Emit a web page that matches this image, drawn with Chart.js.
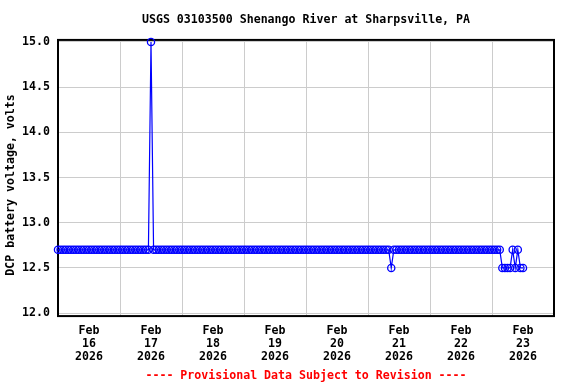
<!DOCTYPE html>
<html>
<head>
<meta charset="utf-8">
<script src="https://cdn.jsdelivr.net/npm/chart.js@4/dist/chart.umd.min.js"></script>
<style>
  html, body { margin: 0; padding: 0; background: #fff; }
</style>
</head>
<body>
<canvas id="myChart" width="576" height="384"></canvas>
<script>
// hourly DCP battery voltage, one row per day, starting Feb 16 2026 00:00
const volts = [
  12.7, 12.7, 12.7, 12.7, 12.7, 12.7, 12.7, 12.7, 12.7, 12.7, 12.7, 12.7, 12.7, 12.7, 12.7, 12.7, 12.7, 12.7, 12.7, 12.7, 12.7, 12.7, 12.7, 12.7,
  12.7, 12.7, 12.7, 12.7, 12.7, 12.7, 12.7, 12.7, 12.7, 12.7, 12.7, 12.7, 15.0, 12.7, 12.7, 12.7, 12.7, 12.7, 12.7, 12.7, 12.7, 12.7, 12.7, 12.7,
  12.7, 12.7, 12.7, 12.7, 12.7, 12.7, 12.7, 12.7, 12.7, 12.7, 12.7, 12.7, 12.7, 12.7, 12.7, 12.7, 12.7, 12.7, 12.7, 12.7, 12.7, 12.7, 12.7, 12.7,
  12.7, 12.7, 12.7, 12.7, 12.7, 12.7, 12.7, 12.7, 12.7, 12.7, 12.7, 12.7, 12.7, 12.7, 12.7, 12.7, 12.7, 12.7, 12.7, 12.7, 12.7, 12.7, 12.7, 12.7,
  12.7, 12.7, 12.7, 12.7, 12.7, 12.7, 12.7, 12.7, 12.7, 12.7, 12.7, 12.7, 12.7, 12.7, 12.7, 12.7, 12.7, 12.7, 12.7, 12.7, 12.7, 12.7, 12.7, 12.7,
  12.7, 12.7, 12.7, 12.7, 12.7, 12.7, 12.7, 12.7, 12.7, 12.5, 12.7, 12.7, 12.7, 12.7, 12.7, 12.7, 12.7, 12.7, 12.7, 12.7, 12.7, 12.7, 12.7, 12.7,
  12.7, 12.7, 12.7, 12.7, 12.7, 12.7, 12.7, 12.7, 12.7, 12.7, 12.7, 12.7, 12.7, 12.7, 12.7, 12.7, 12.7, 12.7, 12.7, 12.7, 12.7, 12.7, 12.7, 12.7,
  12.7, 12.7, 12.7, 12.7, 12.5, 12.5, 12.5, 12.5, 12.7, 12.5, 12.7, 12.5, 12.5
];
// hours since Feb 16 00:00 for each reading
const hours = volts.map((v, i) => i);

const dayTicks = [12, 36, 60, 84, 108, 132, 156, 180];
const dayLabels = [
  ['Feb', '16', '2026'], ['Feb', '17', '2026'], ['Feb', '18', '2026'], ['Feb', '19', '2026'],
  ['Feb', '20', '2026'], ['Feb', '21', '2026'], ['Feb', '22', '2026'], ['Feb', '23', '2026']
];
const voltTicks = [12.0, 12.5, 13.0, 13.5, 14.0, 14.5, 15.0];

const font = { family: 'DejaVu Sans Mono', size: 11.6, weight: 'bold' };

// black box all round the plot
const frame = {
  id: 'frame',
  beforeDatasetsDraw(chart) {
    const { ctx, chartArea: a } = chart;
    ctx.save();
    ctx.strokeStyle = '#000';
    ctx.lineWidth = 2;
    ctx.strokeRect(a.left, a.top, a.right - a.left, a.bottom - a.top);
    ctx.restore();
  }
};

var myChartNode = document.getElementById('myChart').getContext('2d');
var myChart = new Chart(myChartNode, {
  type: 'line',
  data: {
    datasets: [{
      data: hours.map((h, i) => ({ x: h, y: volts[i] })),
      borderColor: '#0000ff',
      borderWidth: 1.2,
      pointRadius: 3.6,
      pointBorderWidth: 1.3,
      pointBorderColor: '#0000ff',
      pointBackgroundColor: 'rgba(0,0,0,0)',
      tension: 0,
      clip: false
    }]
  },
  options: {
    animation: false,
    responsive: false,
    layout: { padding: { left: 0, right: 22 } },
    plugins: {
      legend: { display: false },
      tooltip: { enabled: false },
      title: {
        display: true,
        text: 'USGS 03103500 Shenango River at Sharpsville, PA',
        fullSize: false,
        color: '#000',
        font: font,
        padding: { top: 13.5, bottom: 12.5 }
      },
      subtitle: {
        display: true,
        position: 'bottom',
        text: '---- Provisional Data Subject to Revision ----',
        fullSize: false,
        color: '#ff0000',
        font: font,
        padding: { top: 0, bottom: 1 }
      }
    },
    scales: {
      x: {
        type: 'linear',
        min: 0,
        max: 192,
        afterBuildTicks: (axis) => { axis.ticks = dayTicks.map(v => ({ value: v })); },
        afterFit: (axis) => { axis.height = 53; axis.paddingLeft = 0; axis.paddingRight = 0; },
        grid: { offset: true, color: '#cccccc', drawTicks: false },
        border: { display: false },
        ticks: {
          autoSkip: false,
          maxRotation: 0,
          padding: 9,
          color: '#000',
          font: { ...font, lineHeight: 1.1 },
          callback: (v, i) => dayLabels[i]
        }
      },
      y: {
        min: 11.967,
        max: 15.022,
        afterBuildTicks: (axis) => { axis.ticks = voltTicks.map(v => ({ value: v })); },
        afterFit: (axis) => { axis.width = 58; axis.paddingTop = 0; axis.paddingBottom = 0; },
        grid: { color: '#cccccc', drawTicks: false },
        border: { display: false },
        ticks: {
          padding: 8,
          color: '#000',
          font: font,
          callback: (v) => Number(v).toFixed(1)
        },
        title: {
          display: true,
          text: 'DCP battery voltage, volts  ',
          color: '#000',
          font: font,
          padding: { top: 4, bottom: 0 }
        }
      }
    }
  },
  plugins: [frame]
});
</script>
</body>
</html>
